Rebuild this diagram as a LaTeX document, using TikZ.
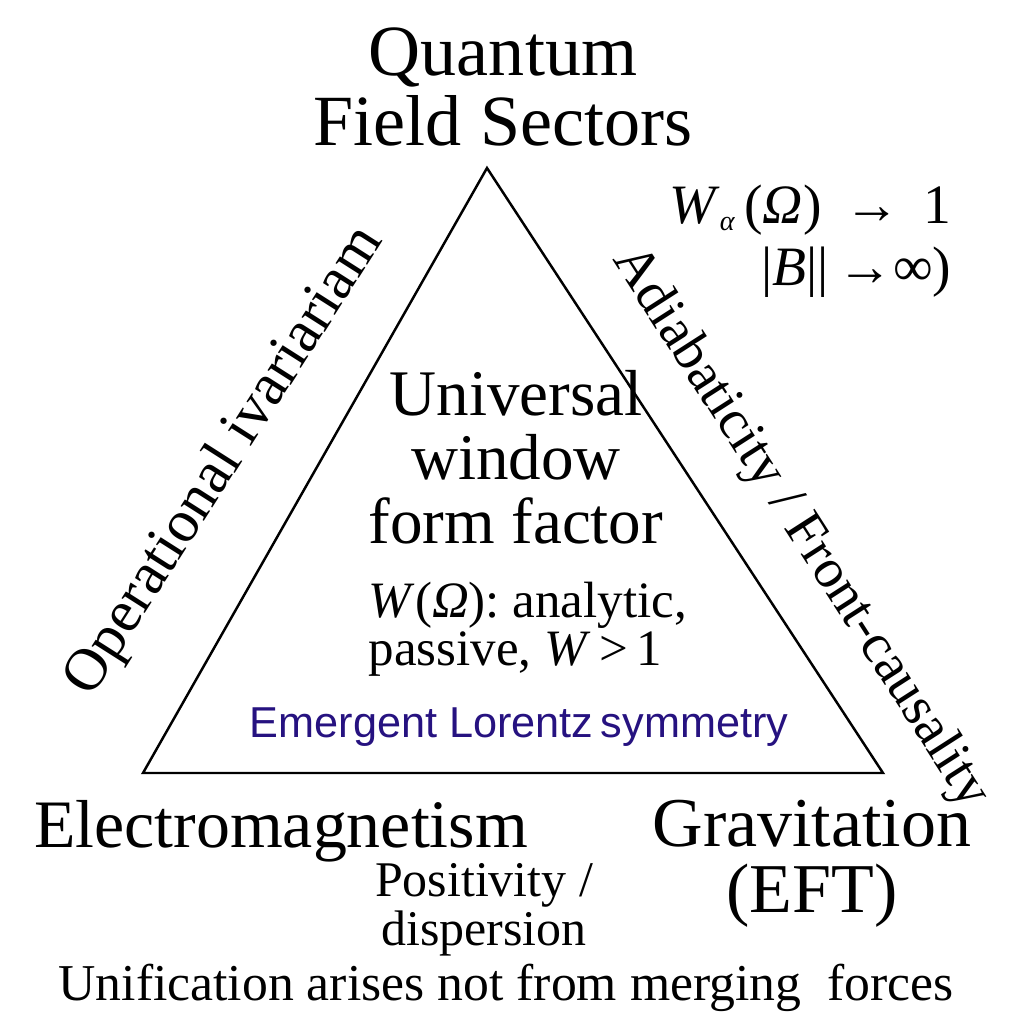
\documentclass[tikz,border=0pt]{standalone}
\usepackage{fontspec}
\setmainfont{Liberation Serif}
\setsansfont{Liberation Sans}
\usetikzlibrary{positioning}
\definecolor{lorentzblue}{RGB}{38,18,128}

\begin{document}
\begin{tikzpicture}[
    x=0.01cm, y=-0.01cm,
    corner/.style={font=\fontsize{20.5}{19.9}\selectfont, align=center, anchor=base, inner sep=0pt},
    core/.style={font=\fontsize{18.5}{18.2}\selectfont, align=center, anchor=base, inner sep=0pt},
    prop/.style={font=\fontsize{14.5}{13.4}\selectfont, align=left, anchor=base west, inner sep=0pt},
    side/.style={font=\rmfamily\fontsize{17}{17}\selectfont, inner sep=0pt},
    note/.style={font=\fontsize{14.2}{12}\selectfont, align=center, anchor=base, inner sep=0pt},
    edge/.style={line width=0.7pt, line join=miter},
]
\useasboundingbox (0,0) rectangle (1024,1024);

% triangle
\coordinate (apex) at (487,168);
\coordinate (bl) at (143,773);
\coordinate (br) at (883,773);
\draw[edge] (apex) -- (br) -- (bl) -- cycle;

% vertices (base = last line)
\node[corner] (qfs) at (503,145) {Quantum\\Field Sectors};
\node[corner, font=\fontsize{19.3}{18.5}\selectfont] (em) at (281,847) {Electromagnetism};
\node[corner, font=\fontsize{19.9}{18.5}\selectfont] (grav) at (812,912) {Gravitation\\(EFT)};

% centre
\node[core] (uwff) at (516,543) {Universal\\window\\form factor};
\node[prop] (wprop) at (368,665) {\textit{W}(\textit{Ω}): analytic,\\passive, \textit{W}\,>\,1};
\node[font=\sffamily\fontsize{12.3}{12.3}\selectfont, text=lorentzblue, anchor=base, inner sep=0pt]
    (lorentz) at (519,737) {Emergent Lorentz\,symmetry};

% edges
\node[side, rotate=57.5] (opinv) at (225,462) {Operational ivariariam};
\node[side, font=\rmfamily\fontsize{15.8}{15.8}\selectfont, rotate=-57.3] (adiab) at (800,528) {Adiabaticity / Front-causality};
\node[font=\fontsize{15.8}{17.6}\selectfont, align=right, anchor=base east, inner sep=0pt] (wlim) at (952,285)
    {\textit{W}\raisebox{-0.3ex}{\footnotesize\textit{α}}\,(\textit{Ω})\, → \,1\\
     |\textit{B}||\,→∞)};

% bottom
\node[note] (posdisp) at (484,945) {Positivity /\\dispersion};
\node[note, font=\fontsize{14.7}{14.7}\selectfont] (unif) at (506,1000) {Unification arises not from merging\ \ forces};
\end{tikzpicture}
\end{document}
